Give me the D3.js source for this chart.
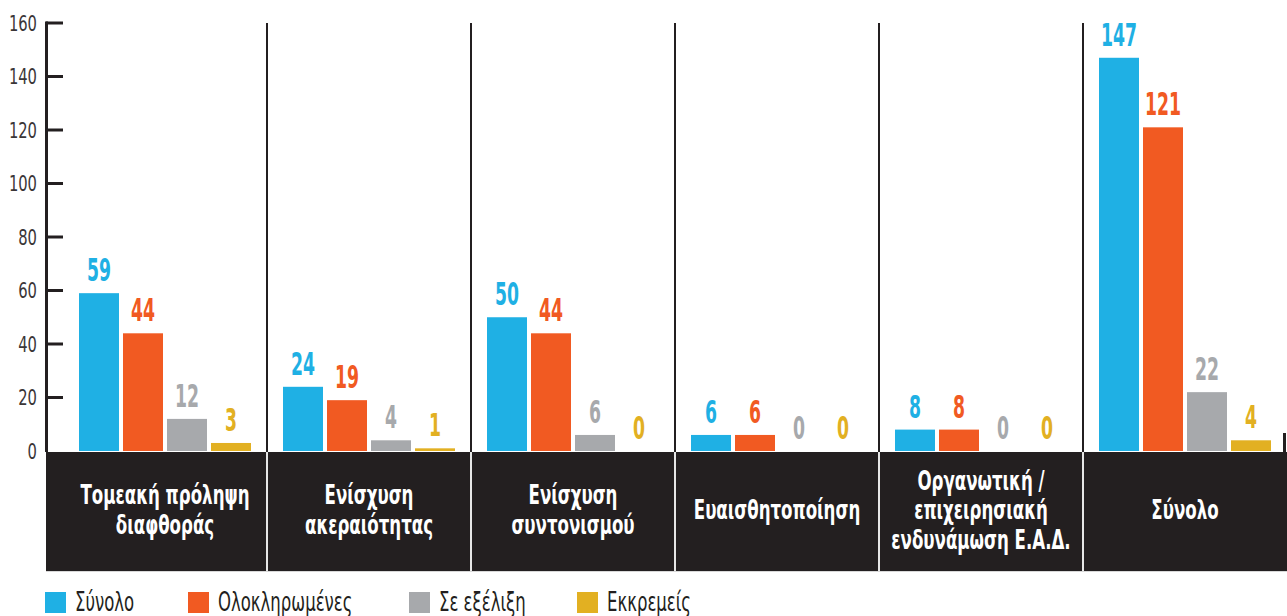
<!DOCTYPE html>
<html>
<head>
<meta charset="utf-8">
<script src="https://cdn.jsdelivr.net/npm/d3@7"></script>
<style>
  body { margin: 0; background: #fff; }
  svg { display: block; }
  text { font-family: "Liberation Sans Narrow", "DejaVu Sans Condensed", sans-serif; }
</style>
</head>
<body>
<svg id="chart" width="1287" height="616"></svg>
<script>
// categories (with the line breaks used in the dark label band)
const categories = ["Τομεακή πρόληψη διαφθοράς", "Ενίσχυση ακεραιότητας", "Ενίσχυση συντονισμού",
    "Ευαισθητοποίηση", "Οργανωτική / επιχειρησιακή ενδυνάμωση Ε.Α.Δ.", "Σύνολο"];
const categoryLines = [["Τομεακή πρόληψη", "διαφθοράς"], ["Ενίσχυση", "ακεραιότητας"], ["Ενίσχυση", "συντονισμού"],
    ["Ευαισθητοποίηση"], ["Οργανωτική /", "επιχειρησιακή", "ενδυνάμωση Ε.Α.Δ."], ["Σύνολο"]];

const seriesNames = ["Σύνολο", "Ολοκληρωμένες", "Σε εξέλιξη", "Εκκρεμείς"];
const total     = [59, 24, 50, 6, 8, 147];
const completed = [44, 19, 44, 6, 8, 121];
const ongoing   = [12, 4, 6, 0, 0, 22];
const pending   = [3, 1, 0, 0, 0, 4];
const yTicks = [0, 20, 40, 60, 80, 100, 120, 140, 160];

const colors = ["#1fb0e4", "#f15a22", "#a7a9ac", "#e2b022"];
const ink = "#231f20";

const seriesValues = [total, completed, ongoing, pending];

var svg = d3.select("#chart");

var width = 1287, height = 616;

var y = d3.scaleLinear().domain([0, 160]).range([451, 23]);
var x0 = d3.scaleBand().domain(categories).range([63, width]).padding(0);
var x1 = d3.scaleBand().domain(seriesNames).range([16, 188]).paddingInner(1 / 11).paddingOuter(0);

// condensed text: scale horizontally around the anchor point
function condText(g, x, yy, sx) {
    return g.append("text").attr("transform", "translate(" + x + "," + yy + ") scale(" + sx + ",1)");
}

// vertical separators between groups
categories.slice(1).forEach(function(c) {
    svg.append("line")
        .attr("x1", x0(c)).attr("x2", x0(c))
        .attr("y1", y(160)).attr("y2", 452)
        .attr("stroke", ink).attr("stroke-width", 2);
});
svg.append("line")
    .attr("x1", 1284.5).attr("x2", 1284.5).attr("y1", 433).attr("y2", 452)
    .attr("stroke", ink).attr("stroke-width", 3);

// bars + value labels
var groups = svg.selectAll(".grp")
    .data(categories)
    .enter().append("g")
    .attr("class", "grp")
    .attr("transform", function(d) { return "translate(" + x0(d) + ",0)"; });

groups.each(function(cat, ci) {
    var g = d3.select(this);
    seriesNames.forEach(function(s, si) {
        var v = seriesValues[si][ci];
        g.append("rect")
            .attr("x", x1(s))
            .attr("y", y(v))
            .attr("width", x1.bandwidth())
            .attr("height", y(0) - y(v))
            .attr("fill", colors[si]);
        condText(g, x1(s) + x1.bandwidth() / 2, y(v) - 12, 0.6)
            .attr("text-anchor", "middle")
            .attr("font-size", 32)
            .attr("font-weight", "bold")
            .attr("fill", colors[si])
            .text(v);
    });
});

// dark category band
svg.append("rect")
    .attr("x", 46).attr("y", 452)
    .attr("width", width - 46).attr("height", 119)
    .attr("fill", ink);
svg.append("line")
    .attr("x1", 46).attr("x2", width).attr("y1", 571.5).attr("y2", 571.5)
    .attr("stroke", "#d8d8d8").attr("stroke-width", 1);
categories.slice(1).forEach(function(c) {
    svg.append("line")
        .attr("x1", x0(c)).attr("x2", x0(c))
        .attr("y1", 452).attr("y2", 571)
        .attr("stroke", "#e6e6e6").attr("stroke-width", 2);
});

categories.forEach(function(c, ci) {
    var lines = categoryLines[ci];
    var cx = x0(c) + x0.bandwidth() / 2;
    lines.forEach(function(t, li) {
        var by = 519 + (li - (lines.length - 1) / 2) * 29.5;
        condText(svg, cx, by, 0.685)
            .attr("text-anchor", "middle")
            .attr("font-size", 27)
            .attr("font-weight", "bold")
            .attr("fill", "#fff")
            .text(t);
    });
});

// y axis
svg.append("line")
    .attr("x1", 46.5).attr("x2", 46.5).attr("y1", y(160) - 1.5).attr("y2", 452)
    .attr("stroke", ink).attr("stroke-width", 3);
yTicks.forEach(function(t) {
    if (t > 0) {
        svg.append("line")
            .attr("x1", 46).attr("x2", 63)
            .attr("y1", y(t)).attr("y2", y(t))
            .attr("stroke", ink).attr("stroke-width", 3);
    }
    condText(svg, 37, y(t) + 7.5, 0.78)
        .attr("text-anchor", "end")
        .attr("font-size", 21)
        .attr("fill", "#3a3637")
        .text(t);
});

// legend
var legendX = [45, 188, 409, 577];
seriesNames.forEach(function(s, si) {
    svg.append("rect")
        .attr("x", legendX[si]).attr("y", 592)
        .attr("width", 21).attr("height", 21)
        .attr("fill", colors[si]);
    condText(svg, legendX[si] + 30, 611, 0.68)
        .attr("font-size", 27)
        .attr("fill", ink)
        .text(s);
});
</script>
</body>
</html>
